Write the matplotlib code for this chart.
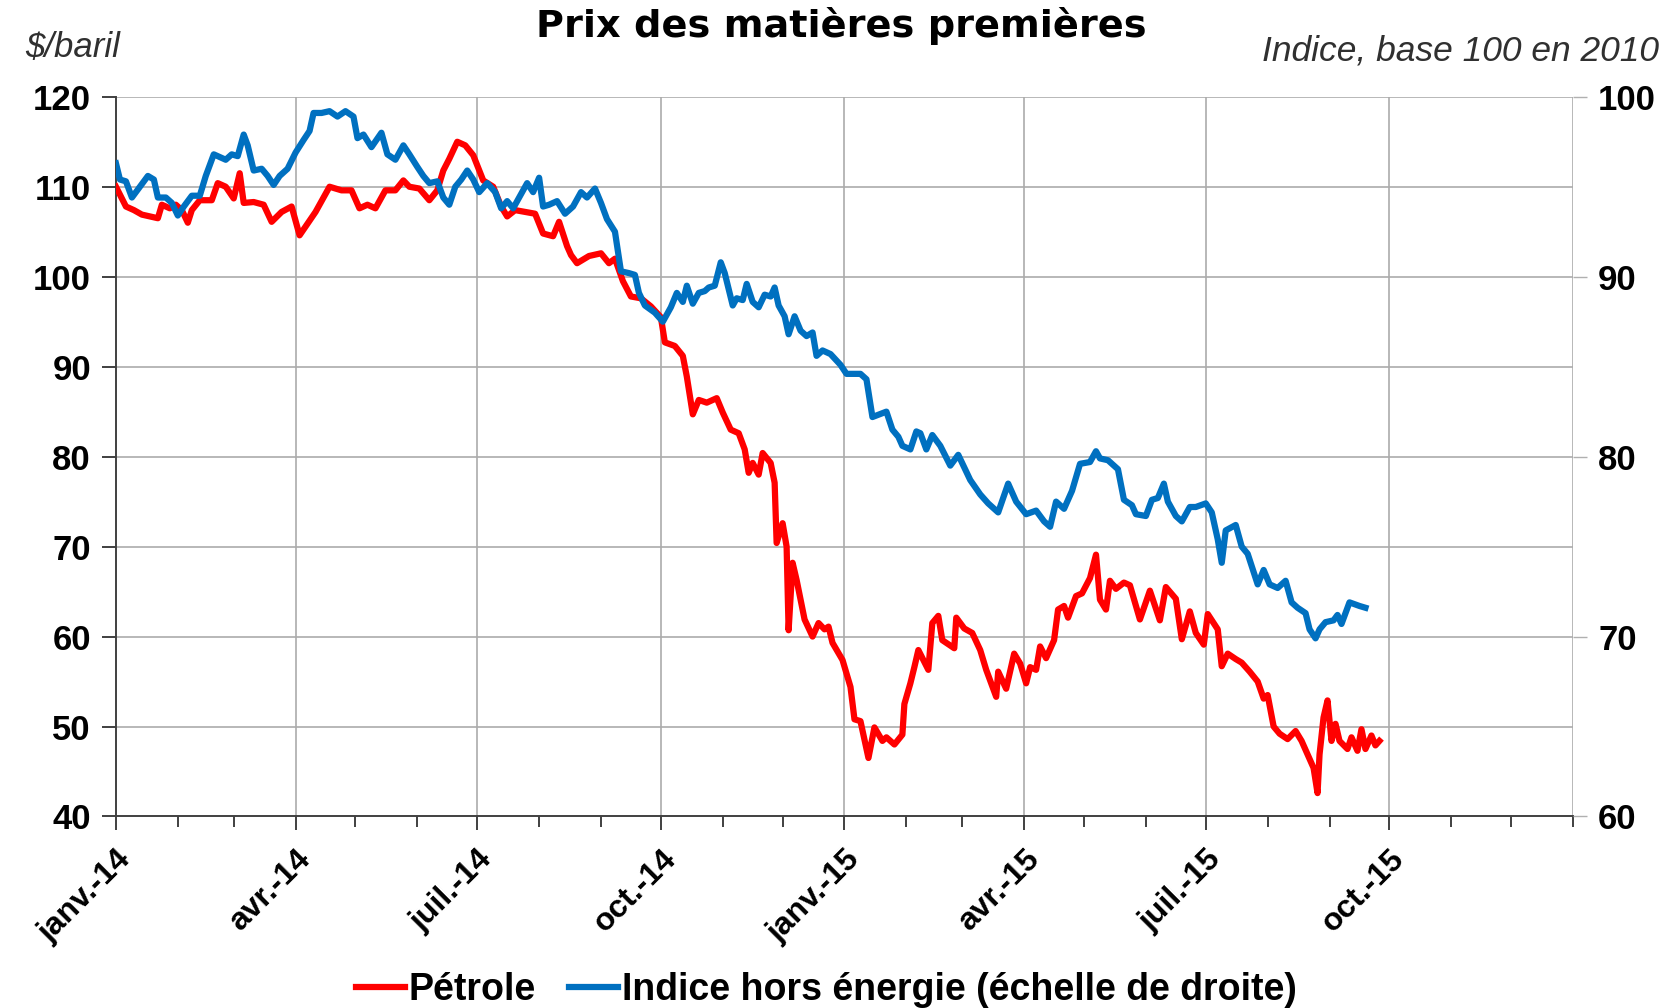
import pandas as pd
import matplotlib
matplotlib.use("Agg")
import matplotlib.pyplot as plt
import matplotlib.dates as mdates

plt.rcParams['font.family'] = ['Liberation Sans', 'DejaVu Sans']

# days since 2014-01-01 and values
oil_days = [0, 5, 9, 13, 17, 21, 23, 27, 30, 33, 36, 38, 42, 48, 51, 55, 59, 62, 64, 69,
            74, 78, 83, 88, 92, 96, 100, 107, 113, 118, 122, 126, 130, 135, 140, 144, 147, 152, 157, 161,
            164, 167, 171, 175, 179, 184, 189, 193, 196, 200, 205, 210, 214, 219, 222, 226, 228, 231, 237, 243,
            247, 250, 254, 258, 263, 268, 273, 275, 280, 284, 286, 289, 292, 296, 301, 304, 308, 312, 315, 317,
            319, 322, 324, 328, 330, 331, 334, 336, 337, 339, 341, 345, 349, 352, 355, 357, 359, 364, 368, 370,
            373, 377, 380, 384, 386, 390, 394, 395, 398, 400, 402, 407, 409, 412, 414, 420, 421, 425, 429, 433,
            436, 441, 442, 446, 450, 453, 456, 458, 461, 463, 466, 470, 472, 475, 477, 481, 484, 488, 491, 493,
            496, 498, 501, 505, 508, 513, 518, 523, 526, 531, 534, 538, 541, 545, 547, 552, 554, 557, 561, 564,
            568, 572, 575, 577, 580, 583, 587, 591, 594, 597, 600, 602, 603, 605, 607, 609, 611, 613, 617, 619,
            622, 624, 626, 629, 631, 633]
oil = [110, 107.8, 107.4, 106.9, 106.7, 106.5, 108, 107.6, 108, 107.4, 106, 107.4, 108.5, 108.5, 110.4, 110, 108.7, 111.5, 108.2, 108.3,
       108, 106.1, 107.2, 107.8, 104.6, 105.9, 107.2, 110, 109.6, 109.6, 107.6, 108, 107.6, 109.6, 109.6, 110.7, 110, 109.8, 108.5, 109.6,
       111.8, 113.1, 115, 114.6, 113.5, 110.7, 110, 107.8, 106.7, 107.4, 107.2, 107, 104.8, 104.5, 106.1, 103.4, 102.4, 101.5, 102.3, 102.6,
       101.5, 102, 99.5, 97.8, 97.6, 96.7, 95.5, 92.7, 92.3, 91.2, 88.9, 84.7, 86.3, 86, 86.5, 84.9, 83, 82.6, 80.8, 78.2,
       79.3, 78, 80.4, 79.3, 77.1, 70.4, 72.6, 70, 60.7, 68.2, 66.3, 61.9, 60, 61.5, 60.8, 61.1, 59.3, 57.4, 54.4, 50.8,
       50.6, 46.5, 49.9, 48.4, 48.8, 48, 49.1, 52.5, 54.8, 56.6, 58.5, 56.3, 61.5, 62.3, 59.6, 58.7, 62.1, 60.9, 60.4, 58.5,
       56.3, 53.3, 56.1, 54.2, 58.1, 57, 54.8, 56.6, 56.3, 58.9, 57.6, 59.6, 63, 63.4, 62.1, 64.5, 64.8, 66.5, 69.1, 64.1,
       63, 66.2, 65.3, 66, 65.7, 61.9, 65.1, 61.8, 65.5, 64.2, 59.7, 62.8, 60.4, 59.1, 62.5, 60.8, 56.7, 58.1, 57.5, 57.1,
       56.1, 55, 53.1, 53.5, 50, 49.2, 48.6, 49.5, 48.4, 46.9, 45.4, 42.6, 46.9, 51, 52.9, 48.4, 50.3, 48.4, 47.5, 48.8,
       47.3, 49.7, 47.5, 49, 47.9, 48.4]

idx_days = [0, 2, 5, 8, 12, 16, 19, 21, 25, 28, 31, 34, 38, 42, 45, 49, 51, 55, 58, 61,
            64, 66, 69, 73, 76, 79, 82, 86, 90, 94, 97, 99, 103, 107, 111, 115, 119, 121, 124, 128,
            133, 136, 140, 144, 147, 151, 154, 157, 161, 164, 167, 170, 173, 176, 179, 182, 186, 190, 193, 196,
            199, 203, 206, 209, 212, 214, 217, 221, 225, 229, 233, 236, 240, 243, 246, 250, 253, 257, 260, 262,
            265, 270, 274, 278, 281, 284, 286, 289, 292, 295, 297, 300, 303, 305, 309, 311, 314, 316, 319, 322,
            325, 328, 330, 332, 335, 337, 340, 343, 346, 349, 351, 354, 358, 363, 366, 373, 376, 379, 386, 389,
            392, 394, 398, 401, 403, 406, 409, 413, 418, 422, 428, 433, 437, 442, 447, 451, 456, 461, 465, 468,
            471, 475, 479, 483, 488, 491, 493, 497, 502, 505, 509, 511, 516, 519, 522, 525, 527, 531, 534, 538,
            541, 546, 549, 552, 554, 556, 561, 564, 567, 572, 575, 578, 582, 586, 589, 592, 596, 598, 601, 603,
            606, 610, 612, 614, 618, 623, 626]
idx = [96.3, 95.4, 95.3, 94.4, 95, 95.6, 95.4, 94.4, 94.4, 94.1, 93.4, 93.9, 94.5, 94.5, 95.6, 96.8, 96.7, 96.5, 96.8, 96.7,
       97.9, 97.3, 95.9, 96, 95.6, 95.1, 95.6, 96, 96.9, 97.6, 98.1, 99.1, 99.1, 99.2, 98.9, 99.2, 98.9, 97.7, 97.9, 97.2,
       98, 96.8, 96.5, 97.3, 96.8, 96.1, 95.6, 95.2, 95.3, 94.4, 94, 95, 95.4, 95.9, 95.4, 94.7, 95.2, 94.7, 93.8, 94.2,
       93.8, 94.6, 95.2, 94.7, 95.5, 93.9, 94, 94.2, 93.5, 93.9, 94.7, 94.4, 94.9, 94.1, 93.2, 92.5, 90.3, 90.2, 90.1, 89.1,
       88.4, 88, 87.5, 88.3, 89.1, 88.6, 89.5, 88.5, 89.1, 89.2, 89.4, 89.5, 90.8, 90.2, 88.4, 88.8, 88.7, 89.6, 88.6, 88.3,
       89, 88.9, 89.4, 88.4, 87.8, 86.8, 87.8, 87, 86.7, 86.9, 85.6, 85.9, 85.7, 85.1, 84.6, 84.6, 84.3, 82.2, 82.5, 81.5,
       81.1, 80.6, 80.4, 81.4, 81.3, 80.4, 81.2, 80.6, 79.5, 80.1, 78.7, 77.9, 77.4, 76.9, 78.5, 77.5, 76.8, 77, 76.4, 76.1,
       77.5, 77.1, 78.1, 79.6, 79.7, 80.3, 79.9, 79.8, 79.3, 77.6, 77.3, 76.8, 76.7, 77.6, 77.7, 78.5, 77.5, 76.7, 76.4, 77.2,
       77.2, 77.4, 76.9, 75.4, 74.1, 75.9, 76.2, 75, 74.6, 72.9, 73.7, 72.9, 72.7, 73.1, 71.9, 71.6, 71.3, 70.4, 69.9, 70.4,
       70.8, 70.9, 71.2, 70.7, 71.9, 71.7, 71.6]

tick_dates = ['2014-01-01', '2014-04-01', '2014-07-01', '2014-10-01',
              '2015-01-01', '2015-04-01', '2015-07-01', '2015-10-01']
tick_labels = ['janv.-14', 'avr.-14', 'juil.-14', 'oct.-14',
               'janv.-15', 'avr.-15', 'juil.-15', 'oct.-15']

start = pd.Timestamp('2014-01-01')
oil_x = start + pd.to_timedelta(oil_days, unit='D')
idx_x = start + pd.to_timedelta(idx_days, unit='D')

fig = plt.figure(figsize=(16.66, 10.08), dpi=100)
ax = fig.add_axes([0.0696, 0.190, 0.8746, 0.714])
ax2 = ax.twinx()

red = '#FF0000'
blue = '#0070C0'
l1, = ax.plot(oil_x, oil, color=red, lw=4.5, solid_joinstyle='round', zorder=3)
l2, = ax2.plot(idx_x, idx, color=blue, lw=4.5, solid_joinstyle='round', zorder=3)

ax.set_xlim(start, pd.Timestamp('2016-01-01'))
ax.set_ylim(40, 120)
ax2.set_ylim(60, 100)
ax.set_yticks(range(40, 121, 10))
ax2.set_yticks(range(60, 101, 10))

ax.set_xticks(pd.to_datetime(tick_dates))
ax.set_xticklabels(tick_labels, rotation=45, ha='right', rotation_mode='anchor',
                   fontsize=23, fontweight='bold')
ax.xaxis.set_minor_locator(mdates.MonthLocator())

# grid: horizontal every 10, vertical at each quarter (and right edge)
for v in range(50, 121, 10):
    ax.axhline(v, color='#ABABAB', lw=1.2, zorder=1)
for d in tick_dates[1:] + ['2016-01-01']:
    ax.axvline(pd.Timestamp(d), color='#ABABAB', lw=1.2, zorder=1)

for a in (ax, ax2):
    for s in ('top', 'right', 'left', 'bottom'):
        a.spines[s].set_visible(False)
ax.spines['left'].set_visible(True)
ax.spines['left'].set_color('#404040')
ax.spines['left'].set_linewidth(1.4)
ax.spines['bottom'].set_visible(True)
ax.spines['bottom'].set_color('#404040')
ax.spines['bottom'].set_linewidth(1.4)

ax.tick_params(axis='x', which='major', length=10, width=1.4, color='#404040', pad=10)
ax.tick_params(axis='x', which='minor', length=8, width=1.4, color='#404040')
ax.tick_params(axis='y', length=10, width=1.4, color='#404040', labelsize=25, pad=8)
ax2.tick_params(axis='y', length=10, width=1, color='#B0B0B0', labelsize=25, pad=8)
for lab in ax.get_yticklabels() + ax2.get_yticklabels():
    lab.set_fontweight('bold')

fig.text(0.505, 0.974, 'Prix des matières premières', ha='center', va='center',
         fontsize=27.5, fontweight='bold', family='DejaVu Sans')
fig.text(0.015, 0.953, '$/baril', ha='left', va='center', fontsize=25, style='italic',
         color='#303030')
fig.text(0.996, 0.949, 'Indice, base 100 en 2010', ha='right', va='center', fontsize=25.5,
         style='italic', color='#303030')

fig.legend([l1, l2], ['Pétrole', 'Indice hors énergie (échelle de droite)'],
           loc='center', bbox_to_anchor=(0.496, 0.018), ncol=2, frameon=False,
           handlelength=1.3, handletextpad=0.1, columnspacing=0.9,
           prop={'size': 27, 'weight': 'bold'})

fig.savefig('out.png', dpi=100)
